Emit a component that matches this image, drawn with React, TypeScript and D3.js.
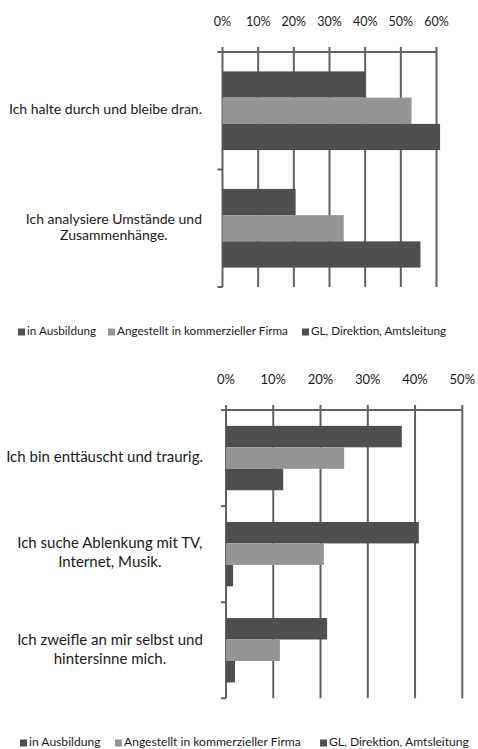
import React from "react";
import * as d3 from "d3";

const seriesNames = ["in Ausbildung", "Angestellt in kommerzieller Firma", "GL, Direktion, Amtsleitung"];
const seriesColors = ["#4f4f4f", "#959595", "#4f4f4f"];

const chart1Categories = [["Ich halte durch und bleibe dran."], ["Ich analysiere Umstände und", "Zusammenhänge."]];
const chart1Ausbildung = [0.40, 0.205];
const chart1Angestellt = [0.53, 0.34];
const chart1GL = [0.61, 0.555];
const chart1Ticks = [0, 0.1, 0.2, 0.3, 0.4, 0.5, 0.6];

const chart2Categories = [
  ["Ich bin enttäuscht und traurig."],
  ["Ich suche Ablenkung mit TV,", "Internet, Musik."],
  ["Ich zweifle an mir selbst und", "hintersinne mich."],
];
const chart2Ausbildung = [0.372, 0.408, 0.214];
const chart2Angestellt = [0.25, 0.207, 0.114];
const chart2GL = [0.121, 0.015, 0.019];
const chart2Ticks = [0, 0.1, 0.2, 0.3, 0.4, 0.5];

const FONT = "Lato, 'Open Sans', sans-serif";

let ctx: CanvasRenderingContext2D | null = null;
function measure(text: string, size: number) {
  if (!ctx) ctx = document.createElement("canvas").getContext("2d");
  if (!ctx) return text.length * size * 0.5;
  ctx.font = `${size}px Lato`;
  return ctx.measureText(text).width;
}

type ChartProps = {
  categories: string[][];
  series: number[][];
  ticks: number[];
  layout: {
    x0: number; x1: number; yTop: number; yBottom: number;
    tickLabelY: number; tickFont: number;
    labelRight: number; labelFont: number; lineGap: number;
    legendY: number; legendFont: number; legendX: number[];
  };
};

function Chart({ categories, series, ticks, layout: L }: ChartProps) {
  const x = d3.scaleLinear().domain([0, ticks[ticks.length - 1]]).range([L.x0, L.x1]);
  const y = d3.scaleBand<number>().domain(categories.map((_, i) => i)).range([L.yTop, L.yBottom])
    .paddingInner(0.33).paddingOuter(0.165);
  const ys = d3.scaleBand<number>().domain(series.map((_, i) => i)).range([0, y.bandwidth()]);
  const step = y.step();
  const fmt = d3.format(".0%");
  const boundaries = d3.range(categories.length + 1).map((i) => L.yTop + i * step);
  return (
    <g>
      {ticks.map((t) => (
        <g key={t}>
          <line x1={x(t)} x2={x(t)} y1={L.yTop - 5} y2={L.yBottom} stroke="#616161" strokeWidth={2} />
          <text x={x(t)} y={L.tickLabelY} textAnchor="middle" dominantBaseline="middle"
            fontSize={L.tickFont} fontFamily={FONT} fill="#1a1a1a">{fmt(t)}</text>
        </g>
      ))}
      {boundaries.map((b, i) => (
        <line key={i} x1={L.x0 - 5} x2={i === 0 ? L.x1 : L.x0} y1={b} y2={b} stroke="#616161" strokeWidth={2} />
      ))}
      {categories.map((cat, ci) => {
        const w = Math.max(...cat.map((l) => measure(l, L.labelFont)));
        const cx = L.labelRight - w / 2;
        return (
          <g key={ci}>
            {series.map((s, si) => (
              <rect key={si} x={x(0)} y={(y(ci) as number) + (ys(si) as number)}
                width={x(s[ci]) - x(0)} height={ys.bandwidth()} fill={seriesColors[si]} />
            ))}
            <text fontSize={L.labelFont} fontFamily={FONT} fill="#1a1a1a" textAnchor="middle">
              {cat.map((line, li) => (
                <tspan key={li} x={cx}
                  y={(y(ci) as number) + y.bandwidth() / 2 + (li - (cat.length - 1) / 2) * L.lineGap}
                  dominantBaseline="middle">{line}</tspan>
              ))}
            </text>
          </g>
        );
      })}
      {seriesNames.map((n, i) => (
        <g key={n}>
          <rect x={L.legendX[i]} y={L.legendY - 3.5} width={7} height={7} fill={seriesColors[i]} />
          <text x={L.legendX[i] + 9} y={L.legendY} dominantBaseline="middle" fontSize={L.legendFont}
            fontFamily={FONT} fill="#1a1a1a">{n}</text>
        </g>
      ))}
    </g>
  );
}

export default function App() {
  return (
    <svg width={478} height={749} style={{ position: "absolute", left: 0, top: 0, background: "#fff" }}>
      <Chart
        categories={chart1Categories}
        series={[chart1Ausbildung, chart1Angestellt, chart1GL]}
        ticks={chart1Ticks}
        layout={{
          x0: 222.5, x1: 436.5, yTop: 52, yBottom: 287, tickLabelY: 23, tickFont: 12.5,
          labelRight: 202, labelFont: 14, lineGap: 16,
          legendY: 332, legendFont: 11.7, legendX: [18, 108, 302],
        }}
      />
      <Chart
        categories={chart2Categories}
        series={[chart2Ausbildung, chart2Angestellt, chart2GL]}
        ticks={chart2Ticks}
        layout={{
          x0: 226, x1: 462.3, yTop: 410, yBottom: 698.3, tickLabelY: 381, tickFont: 13,
          labelRight: 203, labelFont: 15, lineGap: 19,
          legendY: 743, legendFont: 12.1, legendX: [20, 115, 320],
        }}
      />
    </svg>
  );
}
